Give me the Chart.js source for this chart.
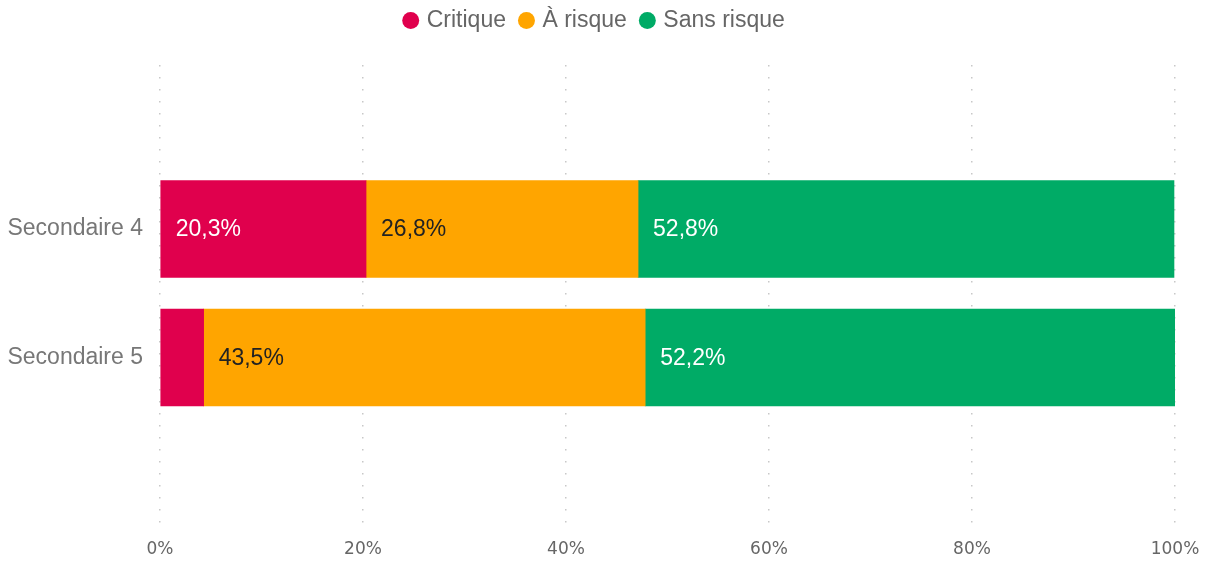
<!DOCTYPE html>
<html>
<head>
<meta charset="utf-8">
<script src="https://cdn.jsdelivr.net/npm/chart.js@4.4.0/dist/chart.umd.min.js"></script>
<style>
  html, body { margin: 0; padding: 0; background: #fff; }
  #wrap { width: 1209px; height: 563px; }
</style>
</head>
<body>
<div id="wrap"><canvas id="c" width="1209" height="563"></canvas></div>
<script>
const categories = ['Secondaire 4', 'Secondaire 5'];
const seriesNames = ['Critique', 'À risque', 'Sans risque'];
const critique = [20.3, 4.3];
const aRisque = [26.8, 43.5];
const sansRisque = [52.8, 52.2];
const xTicks = [0, 20, 40, 60, 80, 100];
const colors = ['#E0004D', '#FFA500', '#00AB66'];
const labelColors = ['#ffffff', '#222222', '#ffffff'];

const FONT = '"Liberation Sans", Arial, sans-serif';
const seriesValues = [critique, aRisque, sansRisque];
const datasets = seriesNames.map((name, s) => ({
  label: name,
  data: seriesValues[s].map((v, i) => ({ x: v, y: i })),
  backgroundColor: colors[s],
  borderWidth: 0,
  barThickness: 97,
  labelColor: labelColors[s]
}));

const barLabels = {
  id: 'barLabels',
  afterDatasetsDraw(chart) {
    const ctx = chart.ctx;
    ctx.save();
    ctx.font = '23px ' + FONT;
    ctx.textAlign = 'left';
    ctx.textBaseline = 'middle';
    chart.data.datasets.forEach((ds, di) => {
      const meta = chart.getDatasetMeta(di);
      meta.data.forEach((el, i) => {
        const v = ds.data[i].x;
        if (v < 8) return;
        const left = Math.min(el.base, el.x);
        ctx.fillStyle = ds.labelColor;
        ctx.fillText(v.toFixed(1).replace('.', ',') + '%', left + 15, el.y + 1);
      });
    });
    ctx.restore();
  }
};

const legendBox = {
  id: 'legendBox',
  beforeInit(chart) {
    const orig = chart.legend.fit;
    chart.legend.fit = function () {
      orig.call(this);
      this.height = 72;
    };
  },
  beforeDraw(chart) {
    chart.legend.left = 16;
    chart.legend.right = 1175;
  }
};

new Chart(document.getElementById('c'), {
  type: 'bar',
  data: { datasets },
  plugins: [barLabels, legendBox],
  options: {
    indexAxis: 'y',
    responsive: false,
    animation: false,
    layout: { padding: { left: 0, right: 34, top: -7, bottom: 0 } },
    plugins: {
      tooltip: { enabled: false },
      legend: {
        position: 'top',
        align: 'center',
        labels: {
          usePointStyle: true,
          pointStyle: 'circle',
          boxWidth: 9,
          boxHeight: 12,
          padding: 16,
          color: '#666666',
          font: { family: FONT, size: 23 }
        }
      }
    },
    scales: {
      x: {
        type: 'linear',
        stacked: true,
        min: 0,
        max: 100,
        afterBuildTicks(scale) { scale.ticks = xTicks.map(v => ({ value: v })); },
        afterFit(scale) { scale.height = 36; scale.paddingRight = 0; scale.paddingLeft = 0; },
        ticks: {
          padding: 12,
          color: '#666666',
          font: { family: '"DejaVu Sans", Verdana, sans-serif', size: 17 },
          callback: v => v + '%'
        },
        grid: { color: '#c8c8c8', lineWidth: 1.5, drawTicks: false },
        border: { display: false, dash: [1.5, 10.5] }
      },
      y: {
        type: 'linear',
        stacked: true,
        reverse: true,
        offset: false,
        min: -1.276,
        max: 2.319,
        afterBuildTicks(scale) { scale.ticks = categories.map((c, i) => ({ value: i })); },
        afterFit(scale) { scale.width = 160; },
        ticks: {
          padding: 17,
          color: '#777777',
          font: { family: FONT, size: 23 },
          callback: v => categories[v]
        },
        grid: { display: false, drawTicks: false, offset: false },
        border: { display: false }
      }
    }
  }
});
</script>
</body>
</html>
